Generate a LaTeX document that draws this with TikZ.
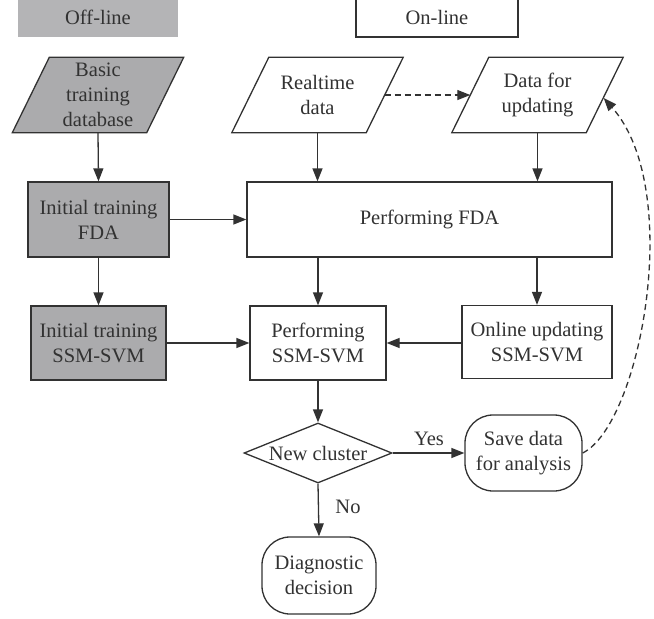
\documentclass[tikz,border=0pt]{standalone}
\usepackage{fontspec}
\setmainfont{Liberation Serif}
\usetikzlibrary{arrows.meta,shapes.geometric,backgrounds}
\definecolor{boxgray}{RGB}{171,171,173}
\definecolor{headgray}{RGB}{180,180,182}
\definecolor{ink}{RGB}{50,50,50}
\begin{document}
\begin{tikzpicture}[x=1pt,y=-1pt,
  txt/.style={text=ink, font=\fontsize{20.5}{25}\selectfont, align=center, inner sep=0pt},
  base/.style={txt, draw=ink, line width=1.3pt},
  rbox/.style={base, rectangle},
  tbox/.style={base, rectangle, rounded corners=28pt},
  para/.style={txt, rectangle, minimum width=134pt, minimum height=75pt},
  parashape/.style={draw=ink, line width=1.3pt},
  arr/.style={draw=ink, line width=1.3pt, -{Triangle[length=13pt,width=10pt]}},
  dasharr/.style={arr, dash pattern=on 6pt off 4pt}
]
\useasboundingbox (0,0) rectangle (654,619);

% headers
\node[txt, fill=headgray, minimum width=160pt, minimum height=40pt] (offline) at (98,17) {Off-line};
\node[rbox, minimum width=162pt, minimum height=40pt] (online) at (437,17) {On-line};

% input parallelograms (text nodes; shapes drawn on background)
\node[para] (basic) at (98,95) {Basic\\training\\database};
\node[para] (realtime) at (317.5,95) {Realtime\\data};
\node[para] (dfu) at (537.5,95) {Data for\\updating};

% boxes
\node[rbox, fill=boxgray, minimum width=141pt, minimum height=75pt] (initFDA) at (98.5,219.5) {Initial training\\FDA};
\node[rbox, fill=boxgray, minimum width=135pt, minimum height=74pt] (initSVM) at (98.5,343) {Initial training\\SSM-SVM};
\node[rbox, minimum width=365pt, minimum height=75pt] (perfFDA) at (429.5,219.5) {Performing FDA};
\node[rbox, minimum width=136pt, minimum height=74pt] (perfSVM) at (318,343) {Performing\\SSM-SVM};
\node[rbox, minimum width=150pt, minimum height=73pt] (onlineUpd) at (537,342) {Online updating\\SSM-SVM};
\node[base, diamond, aspect=2.47, minimum width=148pt, minimum height=60pt] (newc) at (318,453) {New cluster};
\node[tbox, minimum width=117pt, minimum height=76pt] (save) at (523.5,453) {Save data\\for analysis};
\node[tbox, minimum width=114pt, minimum height=77pt] (diag) at (319,575.5) {Diagnostic\\decision};

\node[txt] (yes) at (429,439) {Yes};
\node[txt] (no) at (348,507) {No};

\begin{scope}[on background layer]
  \foreach \n/\f in {basic/boxgray, realtime/white, dfu/white}
    \draw[parashape, fill=\f] ([xshift=18.5pt]\n.north west) -- ([xshift=18.5pt]\n.north east)
      -- ([xshift=-18.5pt]\n.south east) -- ([xshift=-18.5pt]\n.south west) -- cycle;
\end{scope}

% connectors
\draw[arr] (basic.south) -- (initFDA.north);
\draw[arr] (initFDA.south) -- (initSVM.north);
\draw[arr] (initFDA.east) -- (perfFDA.west);
\draw[arr] (initSVM.east) -- (perfSVM.west);
\draw[arr] (realtime.south) -- (realtime.south |- perfFDA.north);
\draw[arr] (dfu.south) -- (dfu.south |- perfFDA.north);
\draw[arr] (perfSVM.north |- perfFDA.south) -- (perfSVM.north);
\draw[arr] (onlineUpd.north |- perfFDA.south) -- (onlineUpd.north);
\draw[arr] (onlineUpd.west |- perfSVM.east) -- (perfSVM.east);
\draw[arr] (perfSVM.south) -- (newc.north);
\draw[arr] (newc.east) -- (save.west);
\draw[arr] (newc.south) -- (diag.north);
\draw[dasharr] (realtime.east) -- (dfu.west);
\draw[dasharr] (save.east) .. controls (640,425) and (685,190) .. ([xshift=-1pt,yshift=-3pt]dfu.east);
\end{tikzpicture}
\end{document}
